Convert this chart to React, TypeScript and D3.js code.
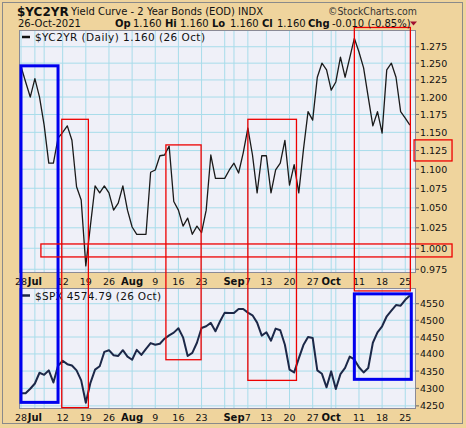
import React from "react";
import * as d3 from "d3";

// Trading days, 2021
const dates = [
  "06-28","06-29","06-30",
  "07-01","07-02","07-06","07-07","07-08","07-09","07-12","07-13","07-14","07-15","07-16",
  "07-19","07-20","07-21","07-22","07-23","07-26","07-27","07-28","07-29","07-30",
  "08-02","08-03","08-04","08-05","08-06","08-09","08-10","08-11","08-12","08-13",
  "08-16","08-17","08-18","08-19","08-20","08-23","08-24","08-25","08-26","08-27","08-30","08-31",
  "09-01","09-02","09-03","09-07","09-08","09-09","09-10","09-13","09-14","09-15","09-16","09-17",
  "09-20","09-21","09-22","09-23","09-24","09-27","09-28","09-29","09-30",
  "10-01","10-04","10-05","10-06","10-07","10-08","10-11","10-12","10-13","10-14","10-15",
  "10-18","10-19","10-20","10-21","10-22","10-25","10-26",
];

const yc2yr = [
  1.245,1.222,1.200,1.227,1.200,1.160,1.108,1.108,1.142,1.150,
  1.159,1.139,1.077,1.060,0.979,1.028,1.078,1.069,1.078,1.069,
  1.047,1.056,1.078,1.047,1.026,1.017,1.017,1.017,1.096,1.099,
  1.118,1.119,1.131,1.058,1.047,1.027,1.037,1.017,1.027,1.019,
  1.047,1.119,1.088,1.088,1.088,1.099,1.108,1.095,1.122,1.156,
  1.119,1.069,1.118,1.118,1.069,1.099,1.108,1.139,1.079,1.106,
  1.069,1.126,1.179,1.167,1.229,1.250,1.240,1.210,1.222,1.259,
  1.229,1.258,1.288,1.267,1.243,1.200,1.159,1.179,1.149,1.240,
  1.250,1.229,1.179,1.170,1.160,
];

const spx = [
  4286,4286,4299,4314,4345,4339,4352,4317,4365,4380,
  4370,4366,4352,4323,4259,4316,4354,4364,4406,4411,
  4396,4394,4411,4392,4383,4412,4397,4415,4432,4427,
  4430,4445,4455,4463,4476,4449,4394,4403,4433,4477,
  4482,4492,4467,4497,4523,4522,4522,4534,4534,4523,
  4515,4493,4454,4464,4439,4475,4470,4427,4354,4346,
  4387,4426,4450,4447,4352,4342,4303,4349,4298,4341,
  4359,4392,4384,4361,4346,4359,4433,4464,4482,4512,
  4529,4546,4544,4562,4574.79,
];

const tickDates = ["06-28","07-01","07-12","07-19","07-26","08-02","08-09","08-16","08-23","09-01","09-07","09-13","09-20","09-27","10-01","10-11","10-18","10-25"];
const tickLabels = ["28","Jul","12","19","26","Aug","9","16","23","Sep","7","13","20","27","Oct","11","18","25"];
const gridDates = ["06-28","07-01","07-06","07-12","07-19","07-26","08-02","08-09","08-16","08-23","08-30","09-01","09-07","09-13","09-20","09-27","10-01","10-04","10-11","10-18","10-25"];

const ycTicks = [0.975,1.0,1.025,1.05,1.075,1.1,1.125,1.15,1.175,1.2,1.225,1.25,1.275];
const spxTicks = [4250,4300,4350,4400,4450,4500,4550];

// Highlight zones in data units: [fromIndex, toIndex, top (value,panel), bottom (value,panel)]
const zoneColors = ["#0000ee","#ee0000","#ee0000","#ee0000","#ee0000","#ee0000","#ee0000","#0000ee"];
const zoneFrom = [0, 8.8, 31.3, 49.0, 72.0, 4.3, 84.9, 72.0];
const zoneTo = [8.0, 14.55, 38.9, 59.5, 84.1, 93.1, 93.1, 84.3];
const zoneTop = [1.246, 1.1682, 1.1327, 1.1682, 1.305, 1.0052, 1.1396, 4580];
const zoneTopPanel = ["yc","yc","yc","yc","yc","yc","yc","spx"];
const zoneBottom = [4260, 4245, 4383, 4323, 4589, 0.9896, 1.111, 4326];
const zoneBottomPanel = ["spx","spx","spx","spx","spx","yc","yc","spx"];

const FONT = "DejaVu Sans, Verdana, sans-serif";

export default function App() {
  const W = 466, H = 428;
  const plotL = 19, plotR = 416;
  const topY0 = 30, topY1 = 272;
  const botY0 = 288, botY1 = 408;

  const x = d3.scaleLinear().domain([0, dates.length - 1]).range([21, 409.9]);
  const yTop = d3.scaleLog().domain([0.9718, 1.301]).range([topY1, topY0]);
  const yBot = d3.scaleLog().domain([4244, 4598]).range([botY1, botY0]);
  const idx = (d: string) => dates.indexOf(d);

  const ycLine = d3.line<number>().x((_, i) => x(i)).y((v) => yTop(v))(yc2yr) || "";
  const spxLine = d3.line<number>().x((_, i) => x(i)).y((v) => yBot(v))(spx) || "";

  const gridColor = "#a8dcea";
  const plotBg = "#eff0f8";
  const tan = "#efd49d";

  const yOf = (v: number, p: string) => (p === "yc" ? yTop(v) : yBot(v));

  return (
    <svg width={W} height={H} style={{ position: "absolute", left: 0, top: 0 }} fontFamily={FONT}>
      <rect x={0} y={0} width={W} height={H} fill={tan} />
      <rect x={2.5} y={2.5} width={460} height={421} fill="none" stroke="#8a8a8a" />

      {/* panels */}
      <rect x={plotL} y={topY0} width={plotR - plotL} height={topY1 - topY0} fill={plotBg} />
      <rect x={plotL} y={botY0} width={plotR - plotL} height={botY1 - botY0} fill={plotBg} />

      {/* grid */}
      {gridDates.map((d) => (
        <g key={"g" + d}>
          <line x1={x(idx(d))} x2={x(idx(d))} y1={topY0} y2={topY1} stroke={gridColor} strokeWidth={1} />
          <line x1={x(idx(d))} x2={x(idx(d))} y1={botY0} y2={botY1} stroke={gridColor} strokeWidth={1} />
        </g>
      ))}
      {ycTicks.map((t) => (
        <line key={"yg" + t} x1={plotL} x2={plotR} y1={yTop(t)} y2={yTop(t)} stroke={gridColor} strokeWidth={1} />
      ))}
      {spxTicks.map((t) => (
        <line key={"sg" + t} x1={plotL} x2={plotR} y1={yBot(t)} y2={yBot(t)} stroke={gridColor} strokeWidth={1} />
      ))}

      {/* series */}
      <path d={ycLine} fill="none" stroke="#1a1a1a" strokeWidth={1.3} strokeLinejoin="round" />
      <path d={spxLine} fill="none" stroke="#1c2848" strokeWidth={2} strokeLinejoin="round" />

      {/* panel borders */}
      <rect x={plotL + 0.5} y={topY0 + 0.5} width={plotR - plotL - 1} height={topY1 - topY0} fill="none" stroke="#8a8a96" />
      <rect x={plotL + 0.5} y={botY0 + 0.5} width={plotR - plotL - 1} height={botY1 - botY0} fill="none" stroke="#8a8a96" />

      {/* right axes */}
      {ycTicks.map((t) => (
        <g key={"yt" + t}>
          <line x1={plotR} x2={plotR + 3} y1={yTop(t)} y2={yTop(t)} stroke="#666" />
          <text x={420} y={yTop(t) + 3.5} fontSize={9.5} fill="#111">{d3.format(".3f")(t)}</text>
        </g>
      ))}
      {spxTicks.map((t) => (
        <g key={"st" + t}>
          <line x1={plotR} x2={plotR + 3} y1={yBot(t)} y2={yBot(t)} stroke="#666" />
          <text x={420} y={yBot(t) + 3.5} fontSize={9.5} fill="#111">{t}</text>
        </g>
      ))}

      {/* x axes */}
      {tickDates.map((d, k) => {
        const bold = /[A-Za-z]/.test(tickLabels[k]);
        return (
          <g key={"xt" + d}>
            <text x={x(idx(d))} y={285} fontSize={bold ? 10 : 9.5} fontWeight={bold ? "bold" : "normal"} textAnchor="middle" fill="#111">{tickLabels[k]}</text>
            <text x={x(idx(d))} y={421} fontSize={bold ? 10 : 9.5} fontWeight={bold ? "bold" : "normal"} textAnchor="middle" fill="#111">{tickLabels[k]}</text>
          </g>
        );
      })}

      {/* legends */}
      <line x1={22} x2={30} y1={37} y2={37} stroke="#111" strokeWidth={2.5} />
      <text x={35} y={41} fontSize={10.5} fill="#111" textLength={170} lengthAdjust="spacing">$YC2YR (Daily) 1.160 (26 Oct)</text>
      <line x1={22} x2={30} y1={295.5} y2={295.5} stroke="#1c2848" strokeWidth={2.5} />
      <text x={35} y={299.5} fontSize={10.5} fill="#111" textLength={126} lengthAdjust="spacing">$SPX 4574.79 (26 Oct)</text>

      {/* highlight zones */}
      {zoneFrom.map((f, k) => {
        const x0 = x(f), x1 = x(zoneTo[k]);
        const y0 = yOf(zoneTop[k], zoneTopPanel[k]);
        const y1 = yOf(zoneBottom[k], zoneBottomPanel[k]);
        const blue = zoneColors[k] === "#0000ee";
        return (
          <rect key={"z" + k} x={x0} y={y0} width={x1 - x0} height={y1 - y0} fill="none"
            stroke={zoneColors[k]} strokeWidth={blue ? 3 : 1.3} />
        );
      })}

      {/* header */}
      <text x={17} y={16} fontSize={12} fontWeight="bold" fill="#111">$YC2YR</text>
      <text x={71} y={15} fontSize={10} fill="#111" textLength={192} lengthAdjust="spacingAndGlyphs">Yield Curve - 2 Year Bonds (EOD)  INDX</text>
      <text x={328} y={15} fontSize={10} fill="#333" textLength={89} lengthAdjust="spacingAndGlyphs">©StockCharts.com</text>
      <text y={27} fontSize={10} fill="#111">
        <tspan x={18}>26-Oct-2021</tspan>
        <tspan x={115} fontWeight="bold">Op</tspan>
        <tspan x={133}>1.160</tspan>
        <tspan x={165} fontWeight="bold">Hi</tspan>
        <tspan x={180}>1.160</tspan>
        <tspan x={212} fontWeight="bold">Lo</tspan>
        <tspan x={230}>1.160</tspan>
        <tspan x={262} fontWeight="bold">Cl</tspan>
        <tspan x={277}>1.160</tspan>
        <tspan x={308} fontWeight="bold">Chg</tspan>
        <tspan x={332}>-0.010 (-0.85%)</tspan>
      </text>
      <path d="M410,21.5 L417,21.5 L413.5,25.5 Z" fill="#a01030" />
    </svg>
  );
}
